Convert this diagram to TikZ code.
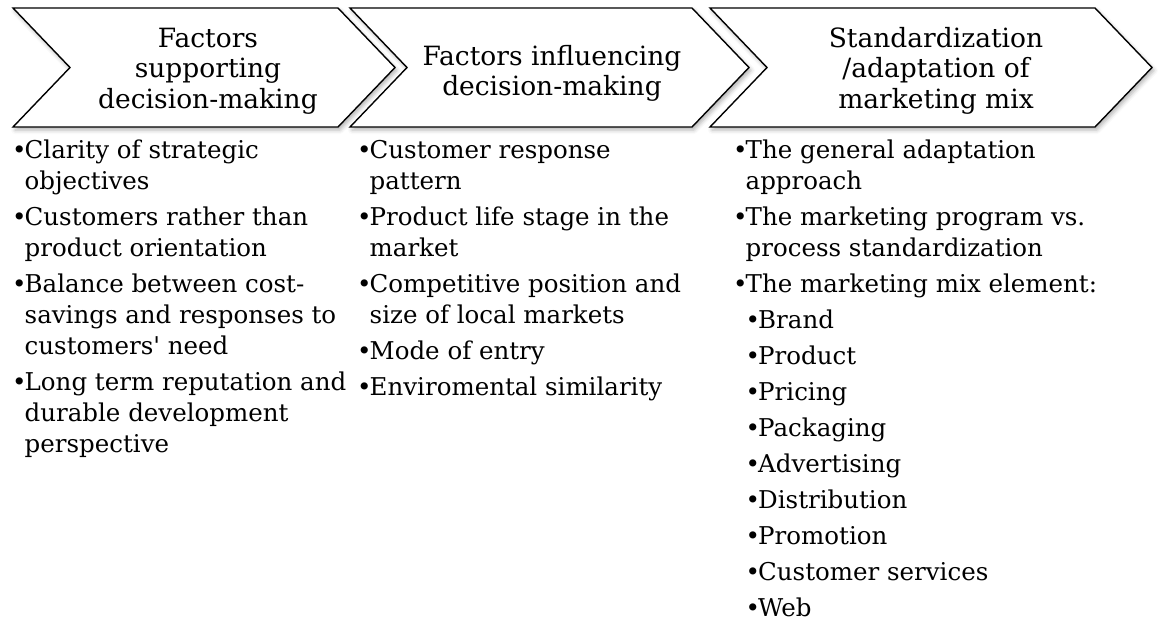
\documentclass[tikz,border=0pt]{standalone}
\usepackage{fontspec}
\setmainfont{DejaVu Serif}
\usetikzlibrary{shadows.blur}

% bullet marker and hanging indent for list lines
\newcommand{\itm}{\makebox[12.5pt][l]{\textbullet}}
\newcommand{\cnt}{\hspace*{12.5pt}}

\tikzset{
  chevron/.style={draw=black, line width=1.4pt, fill=white, line join=miter,
    blur shadow={shadow xshift=2pt, shadow yshift=-3pt,
                 shadow blur radius=4pt, shadow opacity=30}},
  headtext/.style={anchor=base, inner sep=0pt,
    font=\fontsize{26.5}{30.5}\selectfont},
  listtext/.style={anchor=base west, inner sep=0pt,
    font=\fontsize{24.5}{31}\selectfont}
}

\begin{document}
\begin{tikzpicture}[x=1pt, y=-1pt]
\useasboundingbox (0,0) rectangle (1159,622);

% three chevron-shaped stage headers
\path[chevron] (13,8) -- (338,8) -- (395,67.5) -- (338,127) -- (13,127) -- (70,67.5) -- cycle;
\path[chevron] (350,8) -- (692,8) -- (749,67.5) -- (692,127) -- (350,127) -- (407,67.5) -- cycle;
\path[chevron] (710,8) -- (1095,8) -- (1152,67.5) -- (1095,127) -- (710,127) -- (767,67.5) -- cycle;

% header titles
\node[headtext] (h1) at (208,47) {\parbox[t]{320pt}{\centering Factors\\ supporting\\ decision-making}};
\node[headtext] (h2) at (552,65) {\parbox[t]{340pt}{\centering Factors influencing\\ decision-making}};
\node[headtext] (h3) at (936,47) {\parbox[t]{340pt}{\centering Standardization\\ /adaptation of\\ marketing mix}};

% bullet lists under each header
\node[listtext] (l1) at (12,158) {\parbox[t]{360pt}{\raggedright
  \itm Clarity of strategic\\ \cnt objectives\\[5pt]
  \itm Customers rather than\\ \cnt product orientation\\[5pt]
  \itm Balance between cost-\\ \cnt savings and responses to\\ \cnt customers\textquotesingle{} need\\[5pt]
  \itm Long term reputation and\\ \cnt durable development\\ \cnt perspective}};

\node[listtext] (l2) at (357,158) {\parbox[t]{360pt}{\raggedright
  \itm Customer response\\ \cnt pattern\\[5pt]
  \itm Product life stage in the\\ \cnt market\\[5pt]
  \itm Competitive position and\\ \cnt size of local markets\\[5pt]
  \itm Mode of entry\\[5pt]
  \itm Enviromental similarity}};

\node[listtext] (l3) at (733,158) {\parbox[t]{420pt}{\raggedright
  \itm The general adaptation\\ \cnt approach\\[5pt]
  \itm The marketing program vs.\\ \cnt process standardization\\[5pt]
  \itm The marketing mix element:\\[5pt]
  \cnt\itm Brand\\[5pt]
  \cnt\itm Product\\[5pt]
  \cnt\itm Pricing\\[5pt]
  \cnt\itm Packaging\\[5pt]
  \cnt\itm Advertising\\[5pt]
  \cnt\itm Distribution\\[5pt]
  \cnt\itm Promotion\\[5pt]
  \cnt\itm Customer services\\[5pt]
  \cnt\itm Web}};
\end{tikzpicture}
\end{document}
